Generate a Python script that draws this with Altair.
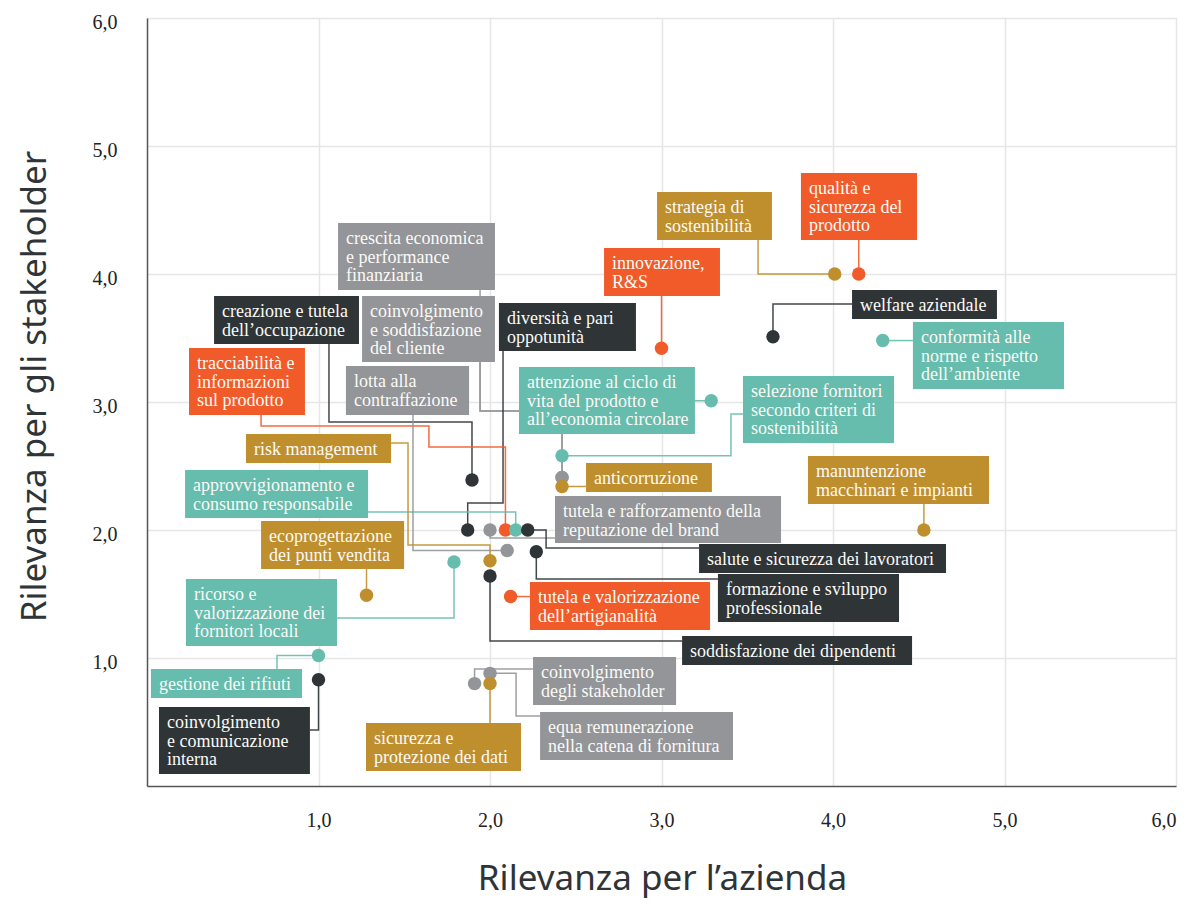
import altair as alt
import pandas as pd

# ---------------- data ----------------
topics = [
    "qualità e sicurezza del prodotto",
    "strategia di sostenibilità",
    "innovazione, R&S",
    "welfare aziendale",
    "conformità alle norme e rispetto dell’ambiente",
    "attenzione al ciclo di vita del prodotto e all’economia circolare",
    "selezione fornitori secondo criteri di sostenibilità",
    "crescita economica e performance finanziaria",
    "coinvolgimento e soddisfazione del cliente",
    "anticorruzione",
    "manuntenzione macchinari e impianti",
    "creazione e tutela dell’occupazione",
    "diversità e pari oppotunità",
    "tutela e rafforzamento della reputazione del brand",
    "tracciabilità e informazioni sul prodotto",
    "approvvigionamento e consumo responsabile",
    "salute e sicurezza dei lavoratori",
    "lotta alla contraffazione",
    "formazione e sviluppo professionale",
    "risk management",
    "ricorso e valorizzazione dei fornitori locali",
    "soddisfazione dei dipendenti",
    "tutela e valorizzazione dell’artigianalità",
    "ecoprogettazione dei punti vendita",
    "gestione dei rifiuti",
    "coinvolgimento e comunicazione interna",
    "equa remunerazione nella catena di fornitura",
    "coinvolgimento degli stakeholder",
    "sicurezza e protezione dei dati",
]

label_lines = [
    ["qualità e", "sicurezza del", "prodotto"],
    ["strategia di", "sostenibilità"],
    ["innovazione,", "R&S"],
    ["welfare aziendale"],
    ["conformità alle", "norme e rispetto", "dell’ambiente"],
    ["attenzione al ciclo di", "vita del prodotto e", "all’economia circolare"],
    ["selezione fornitori", "secondo criteri di", "sostenibilità"],
    ["crescita economica", "e performance", "finanziaria"],
    ["coinvolgimento", "e soddisfazione", "del cliente"],
    ["anticorruzione"],
    ["manuntenzione", "macchinari e impianti"],
    ["creazione e tutela", "dell’occupazione"],
    ["diversità e pari", "oppotunità"],
    ["tutela e rafforzamento della", "reputazione del brand"],
    ["tracciabilità e", "informazioni", "sul prodotto"],
    ["approvvigionamento e", "consumo responsabile"],
    ["salute e sicurezza dei lavoratori"],
    ["lotta alla", "contraffazione"],
    ["formazione e sviluppo", "professionale"],
    ["risk management"],
    ["ricorso e", "valorizzazione dei", "fornitori locali"],
    ["soddisfazione dei dipendenti"],
    ["tutela e valorizzazione", "dell’artigianalità"],
    ["ecoprogettazione", "dei punti vendita"],
    ["gestione dei rifiuti"],
    ["coinvolgimento", "e comunicazione", "interna"],
    ["equa remunerazione", "nella catena di fornitura"],
    ["coinvolgimento", "degli stakeholder"],
    ["sicurezza e", "protezione dei dati"],
]

rilevanza_azienda = [4.15, 4.01, 3.00, 3.65, 4.29, 3.29, 2.42, 2.42, 2.42, 2.42,
                     4.53, 1.895, 1.87, 2.00, 2.09, 2.15, 2.22, 2.10, 2.27, 2.00,
                     1.79, 2.00, 2.12, 1.28, 1.00, 1.00, 2.00, 1.91, 2.00]
rilevanza_stakeholder = [4.00, 4.00, 3.42, 3.51, 3.48, 3.01, 2.58, 2.41, 2.41, 2.34,
                         2.00, 2.39, 2.00, 2.00, 2.00, 2.00, 2.00, 1.84, 1.83, 1.76,
                         1.75, 1.64, 1.48, 1.49, 1.02, 0.83, 0.88, 0.80, 0.80]
gruppo = ["prodotto", "governance", "prodotto", "persone", "ambiente", "ambiente",
          "ambiente", "economia", "economia", "governance", "governance", "persone",
          "persone", "economia", "prodotto", "ambiente", "persone", "economia",
          "persone", "governance", "ambiente", "persone", "prodotto", "governance",
          "ambiente", "persone", "economia", "economia", "governance"]

group_names = ["prodotto", "governance", "ambiente", "persone", "economia"]
group_colors = ["#F15A29", "#BF8F2E", "#66BCAD", "#2F3437", "#939598"]

# ---------------- annotation layout (data units) ----------------
box_left = [3.813, 2.974, 2.665, 4.111, 4.466, 2.169, 3.475, 1.114, 1.254, 2.560,
            3.854, 0.391, 2.052, 2.379, 0.245, 0.222, 3.219, 1.160, 3.329, 0.577,
            0.227, 3.120, 2.233, 0.665, 0.023, 0.070, 2.292, 2.251, 1.277]
box_right = [4.490, 3.644, 3.341, 4.956, 5.347, 3.195, 4.356, 2.029, 2.029, 3.294,
             4.910, 1.236, 2.851, 3.697, 0.921, 1.289, 4.659, 1.878, 4.385, 1.423,
             1.108, 4.461, 3.283, 1.499, 0.904, 0.950, 3.417, 3.085, 2.181]
box_top = [4.789, 4.641, 4.203, 3.875, 3.625, 3.273, 3.203, 4.398, 3.828, 2.523,
           2.578, 3.828, 3.773, 2.266, 3.422, 2.469, 1.891, 3.281, 1.656, 2.750,
           1.617, 1.172, 1.594, 2.070, 0.914, 0.617, 0.578, 1.008, 0.492]
box_bottom = [4.266, 4.266, 3.828, 3.648, 3.102, 2.750, 2.680, 3.875, 3.312, 2.297,
              2.203, 3.453, 3.398, 1.898, 2.898, 2.094, 1.664, 2.898, 1.281, 2.523,
              1.094, 0.945, 1.219, 1.695, 0.688, 0.094, 0.203, 0.633, 0.117]

# leader-line waypoints from box edge; the point itself is appended
leaders = [
    [(4.15, 4.266)],
    [(3.563, 4.266), (3.563, 4.0)],
    [(3.0, 3.828)],
    [(4.111, 3.766), (3.65, 3.766)],
    [(4.466, 3.48)],
    [(3.195, 3.01)],
    [(3.475, 2.906), (3.405, 2.906), (3.405, 2.58)],
    [(1.942, 3.875), (1.942, 2.930), (2.42, 2.930)],
    [(1.942, 3.312), (1.942, 2.930), (2.42, 2.930)],
    [(2.560, 2.34)],
    [(4.53, 2.203)],
    [(1.061, 3.453), (1.061, 2.844), (1.895, 2.844)],
    [(2.076, 3.398), (2.076, 2.211), (1.87, 2.211)],
    [(2.379, 1.938), (2.0, 1.938)],
    [(0.665, 2.898), (0.665, 2.813), (1.644, 2.813), (1.644, 2.648), (2.09, 2.648)],
    [(1.289, 2.141), (2.15, 2.141)],
    [(3.219, 1.859), (2.327, 1.859), (2.327, 2.0)],
    [(1.551, 2.898), (1.551, 1.84)],
    [(3.329, 1.617), (2.27, 1.617)],
    [(1.423, 2.680), (1.522, 2.680), (1.522, 1.883), (2.0, 1.883)],
    [(1.108, 1.313), (1.79, 1.313)],
    [(3.120, 1.133), (2.0, 1.133)],
    [(2.233, 1.48)],
    [(1.28, 1.695)],
    [(0.758, 0.914), (0.758, 1.02)],
    [(0.950, 0.438), (1.0, 0.438)],
    [(2.292, 0.547), (2.152, 0.547), (2.152, 0.88)],
    [(2.251, 0.914), (1.91, 0.914)],
    [(2.0, 0.492)],
]

# ---------------- tables ----------------
points_df = pd.DataFrame({
    "topic": topics, "x": rilevanza_azienda, "y": rilevanza_stakeholder, "group": gruppo,
})
boxes_df = pd.DataFrame({
    "topic": topics, "x0": box_left, "x1": box_right, "y0": box_top, "y1": box_bottom,
    "group": gruppo, "text": ["\n".join(l) for l in label_lines],
})
rows = []
for i, t in enumerate(topics):
    path = leaders[i] + [(rilevanza_azienda[i], rilevanza_stakeholder[i])]
    for k, (px, py) in enumerate(path):
        rows.append({"topic": t, "order": k, "x": px, "y": py, "group": gruppo[i]})
lines_df = pd.DataFrame(rows)

# ---------------- scales / axes ----------------
xscale = alt.Scale(domain=[0, 6], nice=False, zero=False)
yscale = alt.Scale(domain=[0, 6], nice=False, zero=False)
lab_expr = "replace(format(datum.value, '.1f'), '.', ',')"
common_axis = dict(
    values=[1, 2, 3, 4, 5, 6], labelExpr=lab_expr, grid=True, ticks=False, tickSize=0,
    labelFont="Liberation Serif", labelFontSize=20, labelColor="#222222",
    titleFont="Noto Sans", titleFontSize=35, titleFontWeight="normal",
    titleColor="#2F3437", titleBaseline="alphabetic", titleAlign="center",
    domainColor="#555555", domainWidth=1.5, gridColor="#e6e6e6", gridWidth=1.5,
)
xaxis = alt.Axis(title="Rilevanza per l’azienda", labelPadding=24,
                 titleX=515, titleY=103, **common_axis)
yaxis = alt.Axis(title="Rilevanza per gli stakeholder", labelPadding=30, labelOffset=4,
                 titleAngle=-90, titleX=-102, titleY=368, **common_axis)
color = alt.Color("group:N", scale=alt.Scale(domain=group_names, range=group_colors),
                  legend=None)


def X(f):
    return alt.X(f, type="quantitative", scale=xscale, axis=xaxis)


def Y(f):
    return alt.Y(f, type="quantitative", scale=yscale, axis=yaxis)


lines = alt.Chart(lines_df).mark_line(strokeWidth=1.5, opacity=0.9).encode(
    x=X("x"), y=Y("y"), detail="topic:N", order="order:Q", color=color
)
boxes = alt.Chart(boxes_df).mark_rect(opacity=1).encode(
    x=X("x0"), x2="x1", y=Y("y0"), y2="y1", color=color
)
texts = alt.Chart(boxes_df).mark_text(
    align="left", baseline="top", dx=8, dy=7, font="Liberation Serif", fontSize=18,
    lineHeight=18.7, lineBreak="\n", color="#fbfaf6"
).encode(x=X("x0"), y=Y("y0"), text="text:N")
points = alt.Chart(points_df).mark_circle(size=180, opacity=1).encode(
    x=X("x"), y=Y("y"), color=color
)

chart = alt.layer(lines, boxes, texts, points).properties(
    width=1029, height=768,
    autosize=alt.AutoSizeParams(type="none"),
    padding={"left": 139, "top": 10, "right": 8, "bottom": 112},
).configure_view(stroke=None).configure(background="white")

chart.save("out.html", embed_options={"renderer": "svg", "actions": False})
